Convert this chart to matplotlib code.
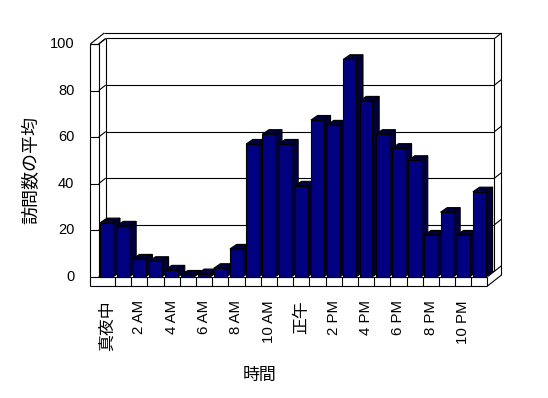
import matplotlib
matplotlib.use("Agg")
import matplotlib.pyplot as plt
from matplotlib.patches import Polygon

plt.rcParams["font.family"] = ["Liberation Sans", "Noto Sans CJK JP"]

# average visits per hour
visits = [23.2, 21.8, 7.6, 6.6, 2.9, 0.7, 1.3, 3.6, 11.9, 57.0, 61.2, 57.0, 39.0,
          67.3, 65.2, 93.4, 75.5, 61.2, 55.2, 50.0, 17.9, 27.7, 17.9, 36.5]
tick_labels = ["真夜中", "2 AM", "4 AM", "6 AM", "8 AM", "10 AM",
               "正午", "2 PM", "4 PM", "6 PM", "8 PM", "10 PM"]
y_ticks = [0, 20, 40, 60, 80, 100]
x_title = "時間"
y_title = "訪問数の平均"

W, H = 548, 398
PX0, PXC = 98.7, 16.2     # px of category 0, px per category
PY0, PYV = 276.7, 2.327   # px of value 0, px per unit

fig = plt.figure(figsize=(W / 100, H / 100), dpi=100)
ax = fig.add_axes([0, 0, 1, 1])
ax.set_xlim(-PX0 / PXC, (W - PX0) / PXC)
ax.set_ylim((PY0 - H) / PYV, PY0 / PYV)
ax.axis("off")


def px(x, y):
    return (x - PX0) / PXC, (PY0 - y) / PYV


N = len(visits)
TOP = y_ticks[-1]
DX, DY = 7 / PXC, 5.5 / PYV       # wall depth
BX, BY = 6.7 / PXC, 4.6 / PYV     # bar depth
WALL = 8.4 / PXC
FLOOR = 9.3 / PYV
LW = 0.8
kw = dict(color="black", lw=LW, zorder=2, solid_capstyle="butt")


def seg(x0, y0, x1, y1):
    ax.plot([x0, x1], [y0, y1], **kw)


# left wall
seg(-WALL, -FLOOR, -WALL, TOP)
seg(0, 0, 0, TOP)
seg(-WALL, TOP, 0, TOP)
seg(-WALL, TOP, -WALL + 2 * DX, TOP + 2 * DY)
seg(0, TOP, DX, TOP + DY)
seg(DX, DY, DX, TOP + DY)
# back wall
seg(-WALL + 2 * DX, TOP + 2 * DY, N + 2 * DX, TOP + 2 * DY)
seg(N + DX, DY, N + DX, TOP + DY)
seg(N + 2 * DX, 2 * DY - FLOOR, N + 2 * DX, TOP + 2 * DY)
# floor
seg(0, 0, N, 0)
seg(-WALL, -FLOOR, N, -FLOOR)
seg(N, -FLOOR, N, 0)
seg(N, 0, N + DX, DY)
seg(N, -FLOOR, N + 2 * DX, 2 * DY - FLOOR)
for k in range(1, N):
    seg(k, 0, k, -FLOOR)

# gridlines on left + back wall
for v in y_ticks:
    seg(-WALL, v, 0, v)
    seg(0, v, DX, v + DY)
    seg(DX, v + DY, N + DX, v + DY)
    seg(N + DX, v + DY, N + 2 * DX, v + 2 * DY)
    ax.text(px(74.5, 0)[0], v, str(v), ha="right", va="center", fontsize=10.5)

# bars, drawn left to right so each front face covers the previous side
xs = [i + 0.5 for i in range(N)]
bars = ax.bar(xs, visits, width=0.8, color="#000080", edgecolor="black", linewidth=LW)
for i, (rect, v) in enumerate(zip(bars, visits)):
    x0 = rect.get_x()
    x1 = x0 + rect.get_width()
    side = Polygon([(x1, 0), (x1 + BX, BY), (x1 + BX, v + BY), (x1, v)],
                   closed=True, fc="#00003c", ec="black", lw=LW, zorder=10 + 2 * i)
    top = Polygon([(x0, v), (x0 + BX, v + BY), (x1 + BX, v + BY), (x1, v)],
                  closed=True, fc="#00003c", ec="black", lw=LW, zorder=10 + 2 * i)
    ax.add_patch(side)
    ax.add_patch(top)
    rect.set_zorder(11 + 2 * i)

# category labels
ly = px(0, 300)[1]
for k, lab in enumerate(tick_labels):
    cjk = not lab[0].isascii()
    ax.text(2 * k + 0.5, ly, lab, rotation=90, ha="center", va="top",
            fontsize=12.2 if cjk else 10.8)

ax.text(*px(259.3, 375.3), x_title, ha="center", va="center", fontsize=12.2)
ax.text(*px(31.7, 170.5), y_title, ha="center", va="center", rotation=90, fontsize=13)

fig.savefig("out.png", dpi=100, facecolor="white")
